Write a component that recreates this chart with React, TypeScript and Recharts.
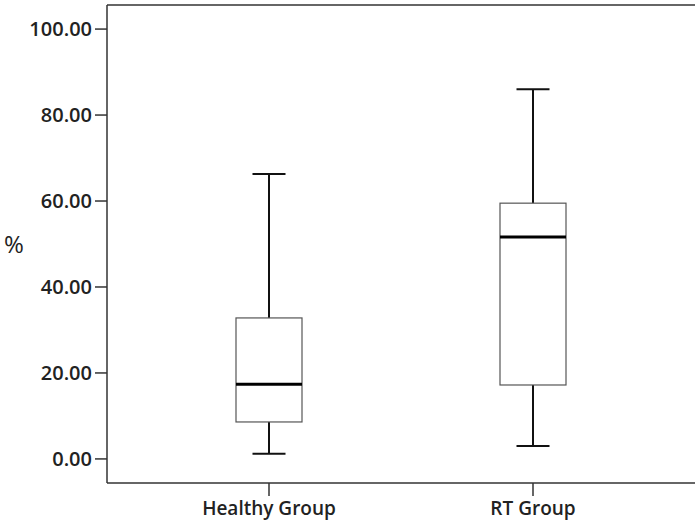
import React from 'react';
import { ComposedChart, Bar, XAxis, YAxis } from 'recharts';

const categories = ['Healthy Group', 'RT Group'];
const mins = [1.2, 3.0];
const q1s = [8.6, 17.2];
const medians = [17.4, 51.6];
const q3s = [32.8, 59.5];
const maxs = [66.3, 86.0];
const yTicks = [0, 20, 40, 60, 80, 100];

const data = categories.map((name, i) => ({
  name,
  range: [mins[i], maxs[i]],
  min: mins[i],
  q1: q1s[i],
  median: medians[i],
  q3: q3s[i],
  max: maxs[i],
}));

const BoxShape = (props: any) => {
  const { x, y, width, height, payload } = props;
  const h = Math.abs(height);
  const top = height >= 0 ? y : y + height;
  const span = payload.max - payload.min;
  const ppu = h / span;
  const yOf = (v: number) => top + (payload.max - v) * ppu;
  const cx = x + width / 2;
  const capW = width / 2;
  const yMax = yOf(payload.max);
  const yMin = yOf(payload.min);
  const yQ1 = yOf(payload.q1);
  const yQ3 = yOf(payload.q3);
  const yMed = yOf(payload.median);
  return (
    <g>
      <line x1={cx} x2={cx} y1={yMax} y2={yQ3} stroke="#111" strokeWidth={2} />
      <line x1={cx} x2={cx} y1={yQ1} y2={yMin} stroke="#111" strokeWidth={2} />
      <line x1={cx - capW / 2} x2={cx + capW / 2} y1={yMax} y2={yMax} stroke="#111" strokeWidth={2} />
      <line x1={cx - capW / 2} x2={cx + capW / 2} y1={yMin} y2={yMin} stroke="#111" strokeWidth={2} />
      <rect x={x} y={yQ3} width={width} height={yQ1 - yQ3} fill="#fff" stroke="#555" strokeWidth={1.2} />
      <line x1={x} x2={x + width} y1={yMed} y2={yMed} stroke="#000" strokeWidth={3} />
    </g>
  );
};

const font = '"Open Sans", sans-serif';

export default function App() {
  return (
    <div style={{ position: 'absolute', left: 0, top: 0, width: 700, height: 525, background: '#fff' }}>
      <ComposedChart
        width={700}
        height={525}
        data={data}
        margin={{ top: 4, right: 5, bottom: 0, left: 0 }}
      >
        <XAxis
          dataKey="name"
          xAxisId="bottom"
          height={42}
          padding={{ left: 30, right: 30 }}
          tickSize={13}
          tickMargin={6}
          axisLine={{ stroke: '#333', strokeWidth: 1.5 }}
          tickLine={{ stroke: '#333', strokeWidth: 1.5 }}
          tick={{ fill: '#222', fontSize: 19, fontFamily: font, fontWeight: 600 }}
        />
        <XAxis
          dataKey="name"
          xAxisId="top"
          orientation="top"
          height={1}
          tick={false}
          tickLine={false}
          padding={{ left: 30, right: 30 }}
          axisLine={{ stroke: '#333', strokeWidth: 1.5 }}
        />
        <YAxis
          yAxisId="left"
          width={107}
          type="number"
          domain={[-5.6, 105.6]}
          ticks={yTicks}
          interval={0}
          allowDataOverflow
          tickSize={12}
          tickMargin={3}
          tickFormatter={(v: number) => v.toFixed(2)}
          axisLine={{ stroke: '#333', strokeWidth: 1.5 }}
          tickLine={{ stroke: '#333', strokeWidth: 1.5 }}
          tick={{ fill: '#222', fontSize: 20, fontFamily: font, fontWeight: 600 }}
          label={{ value: '%', position: 'insideLeft', offset: 4, fill: '#222', fontSize: 24, fontFamily: font, fontWeight: 400 }}
        />
        <YAxis
          yAxisId="right"
          orientation="right"
          width={0}
          type="number"
          domain={[-5.6, 105.6]}
          tick={false}
          tickLine={false}
          axisLine={{ stroke: '#333', strokeWidth: 1.5 }}
        />
        <Bar
          xAxisId="bottom"
          yAxisId="left"
          dataKey="range"
          barSize={66}
          shape={BoxShape}
          isAnimationActive={false}
        />
      </ComposedChart>
    </div>
  );
}
